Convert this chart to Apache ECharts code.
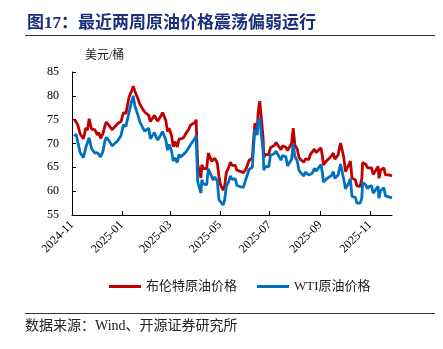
<!DOCTYPE html>
<html>
<head>
<meta charset="utf-8">
<script src="https://cdn.jsdelivr.net/npm/echarts@6/dist/echarts.min.js"></script>
<style>html,body{margin:0;padding:0;background:#fff}#c{width:443px;height:349px}</style>
</head>
<body>
<div id="c"></div>
<script>
const dates = ['2024-11-04','2024-11-06','2024-11-08','2024-11-11','2024-11-13','2024-11-15','2024-11-18','2024-11-20','2024-11-22','2024-11-25','2024-11-27','2024-11-29',
'2024-12-02','2024-12-04','2024-12-06','2024-12-09','2024-12-11','2024-12-13','2024-12-16','2024-12-18','2024-12-20','2024-12-24','2024-12-27','2024-12-31',
'2025-01-03','2025-01-06','2025-01-08','2025-01-10','2025-01-13','2025-01-15','2025-01-17','2025-01-21','2025-01-23','2025-01-27','2025-01-29','2025-01-31',
'2025-02-03','2025-02-05','2025-02-07','2025-02-10','2025-02-12','2025-02-14','2025-02-18','2025-02-20','2025-02-24','2025-02-26','2025-02-28',
'2025-03-03','2025-03-05','2025-03-07','2025-03-10','2025-03-12','2025-03-14','2025-03-17','2025-03-19','2025-03-21','2025-03-24','2025-03-26','2025-03-28',
'2025-04-01','2025-04-02','2025-04-03','2025-04-04','2025-04-08','2025-04-09','2025-04-11','2025-04-15','2025-04-17','2025-04-21','2025-04-23','2025-04-25','2025-04-28','2025-04-30',
'2025-05-02','2025-05-05','2025-05-07','2025-05-09','2025-05-12','2025-05-14','2025-05-16','2025-05-20','2025-05-22','2025-05-27','2025-05-29','2025-05-30',
'2025-06-02','2025-06-04','2025-06-06','2025-06-10','2025-06-11','2025-06-13','2025-06-16','2025-06-17','2025-06-19','2025-06-20','2025-06-23','2025-06-24','2025-06-26','2025-06-30',
'2025-07-02','2025-07-07','2025-07-09','2025-07-11','2025-07-15','2025-07-17','2025-07-21','2025-07-23','2025-07-25','2025-07-28','2025-07-30',
'2025-08-01','2025-08-04','2025-08-06','2025-08-08','2025-08-12','2025-08-14','2025-08-18','2025-08-20','2025-08-22','2025-08-25','2025-08-27','2025-08-29',
'2025-09-02','2025-09-04','2025-09-05','2025-09-09','2025-09-11','2025-09-15','2025-09-17','2025-09-19','2025-09-23','2025-09-25','2025-09-26','2025-09-30',
'2025-10-02','2025-10-06','2025-10-08','2025-10-10','2025-10-14','2025-10-16','2025-10-20','2025-10-22','2025-10-23','2025-10-27','2025-10-29','2025-10-31',
'2025-11-03','2025-11-05','2025-11-07','2025-11-11','2025-11-12','2025-11-14','2025-11-18','2025-11-20','2025-11-24','2025-11-26','2025-11-28'];

const brent = [75.1,75.4,73.9,72.0,72.3,71.0,73.3,72.8,75.2,73.0,72.8,72.9,
71.8,72.3,71.1,72.1,73.5,74.5,73.9,73.4,72.9,73.6,74.2,74.6,
76.5,76.3,76.2,79.8,81.0,82.0,81.0,79.3,78.3,77.1,76.6,76.8,
75.9,74.6,74.7,75.9,75.2,74.7,75.8,76.5,74.8,72.5,73.2,
71.6,69.3,70.4,69.3,70.9,70.6,71.1,70.8,72.2,73.0,73.8,73.6,
74.5,75.0,70.1,65.6,62.8,65.5,64.8,64.7,68.0,66.3,66.1,66.9,65.9,63.1,
61.3,60.2,61.1,63.9,65.0,66.1,65.4,65.4,64.4,64.1,64.2,63.9,
64.6,64.9,66.5,66.9,69.8,74.2,73.2,76.5,78.9,77.0,71.5,67.1,67.7,67.6,
69.1,69.6,70.2,70.4,68.7,69.5,69.2,68.5,68.4,70.0,73.2,
69.7,68.8,67.1,66.6,66.1,66.8,66.6,67.7,67.7,68.8,68.1,68.1,
69.1,67.0,65.5,66.4,66.4,67.4,68.0,66.7,67.6,69.4,70.1,67.0,
64.1,65.5,66.3,62.7,62.4,61.1,61.0,62.6,66.0,65.6,64.9,65.1,
64.9,63.5,63.6,65.2,62.7,64.4,64.9,63.4,63.4,63.1,63.2];

const wti = [71.5,72.0,70.4,68.1,68.4,67.0,69.2,68.9,71.2,68.9,68.7,68.0,
68.1,68.5,67.2,68.4,70.3,71.3,70.7,70.6,69.5,70.1,70.6,71.7,
73.9,73.6,73.3,76.6,78.8,80.0,77.9,75.8,74.6,73.2,72.6,72.5,
73.2,71.0,71.0,72.3,71.4,70.7,71.9,72.5,70.7,68.6,69.8,
68.4,66.3,67.0,66.0,67.7,67.2,67.6,67.2,68.3,69.1,69.7,69.4,
71.2,71.7,66.9,62.0,59.6,62.4,61.5,61.3,64.7,63.1,62.3,63.0,62.1,58.2,
58.3,57.1,58.1,61.0,62.0,63.2,62.5,62.6,61.2,60.9,60.9,60.8,
62.5,62.9,64.6,65.0,68.2,73.0,71.8,74.8,75.3,74.9,68.5,64.4,65.2,65.1,
67.5,67.9,68.4,68.5,66.5,67.5,67.2,65.3,65.2,66.7,70.0,
67.3,66.3,64.4,63.9,63.2,64.0,63.4,63.2,63.7,64.8,64.2,64.0,
65.6,63.5,61.9,62.6,62.4,63.3,64.1,62.7,63.4,65.0,65.7,62.4,
60.5,61.7,62.6,58.9,58.7,57.5,57.5,58.5,61.8,61.3,60.5,61.0,
61.1,59.6,59.8,61.0,58.5,60.1,60.7,59.0,58.8,58.7,58.6];

const monthTicks = ['2024-11-01','2025-01-01','2025-03-01','2025-05-01','2025-07-01','2025-09-01','2025-11-01'];
const axisStart = '2024-11-01';
const axisEnd = '2025-11-28';
const seriesNames = ['布伦特原油价格','WTI原油价格'];
const titleText = '图17：最近两周原油价格震荡偏弱运行';
const unitText = '美元/桶';
const sourceText = '数据来源：Wind、开源证券研究所';

const ts = (s) => { const p = s.split('-').map(Number); return Date.UTC(p[0], p[1] - 1, p[2]); };
const fmt = (v) => { const d = new Date(v); return d.getUTCFullYear() + '-' + String(d.getUTCMonth() + 1).padStart(2, '0'); };
const tickValues = monthTicks.map(ts);

const FONT = '"Times New Roman","Liberation Serif","Noto Sans CJK SC",serif';
const chart = echarts.init(document.getElementById('c'), null, {renderer: 'canvas'});
const zip = (a) => dates.map((d, i) => [ts(d), a[i]]);

chart.setOption({
  animation: false,
  backgroundColor: '#fff',
  title: {
    text: titleText, left: 22, top: 10,
    textStyle: {fontSize: 17, fontWeight: 'bold', color: '#1B2F7C', fontFamily: FONT}
  },
  graphic: [
    {type: 'line', shape: {x1: 25, y1: 35.5, x2: 435, y2: 35.5}, style: {stroke: '#333', lineWidth: 1}},
    {type: 'line', shape: {x1: 25, y1: 313.5, x2: 435, y2: 313.5}, style: {stroke: '#333', lineWidth: 1}},
    {type: 'text', left: 85, top: 50, style: {text: unitText, font: '12px ' + FONT, fill: '#222'}},
    {type: 'text', left: 25, top: 319, style: {text: sourceText, font: '14px ' + FONT, fill: '#222'}}
  ],
  legend: {
    top: 275, left: 104, itemGap: 20, itemWidth: 32, itemHeight: 3, icon: 'rect',
    textStyle: {fontSize: 13, color: '#222', fontFamily: FONT},
    data: seriesNames
  },
  grid: {left: 72, right: 51, top: 72, bottom: 134, containLabel: false, outerBoundsMode: 'none'},
  xAxis: {
    type: 'value', min: ts(axisStart), max: ts(axisEnd), scale: true,
    axisLine: {lineStyle: {color: '#000', width: 1}},
    axisTick: {show: true, inside: true, length: 4, customValues: tickValues, lineStyle: {color: '#000'}},
    axisLabel: {
      customValues: tickValues, rotate: 45, margin: 8, color: '#000', fontSize: 12, fontFamily: FONT,
      formatter: fmt
    },
    splitLine: {show: false}
  },
  yAxis: {
    type: 'value', min: 55, max: 85, interval: 5,
    axisLine: {show: true, lineStyle: {color: '#000', width: 1}},
    axisTick: {show: true, inside: true, length: 4, lineStyle: {color: '#000'}},
    axisLabel: {color: '#000', fontSize: 12, fontFamily: FONT, margin: 13},
    splitLine: {show: false}
  },
  series: [
    {name: seriesNames[0], type: 'line', data: zip(brent), showSymbol: false, symbol: 'none',
     lineStyle: {color: '#C00000', width: 2.8}, itemStyle: {color: '#C00000'}},
    {name: seriesNames[1], type: 'line', data: zip(wti), showSymbol: false, symbol: 'none',
     lineStyle: {color: '#0070C0', width: 2.8}, itemStyle: {color: '#0070C0'}}
  ]
});
</script>
</body>
</html>
